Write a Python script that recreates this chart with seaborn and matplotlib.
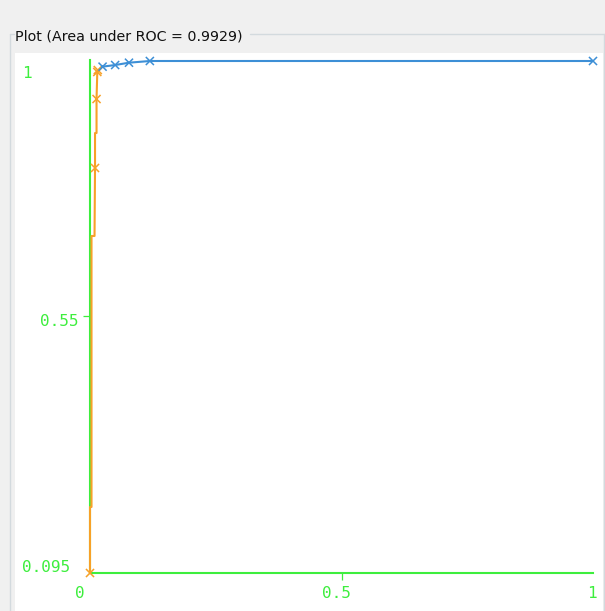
import matplotlib
matplotlib.use("Agg")
import matplotlib.pyplot as plt
from matplotlib.lines import Line2D
import pandas as pd
import seaborn as sns

TITLE = "Plot (Area under ROC = 0.9929)"

# curve vertices (false positive rate, true positive rate) and colour group
fpr = [0.0, 0.0, 0.003, 0.003, 0.009, 0.010, 0.010, 0.013, 0.013, 0.0145,
       0.0145, 0.025,
       0.025, 0.050, 0.0775, 0.119, 1.0]
tpr = [0.095, 0.2117, 0.2117, 0.6907, 0.6907, 0.8109, 0.8727, 0.8727, 0.9328, 0.9806,
       0.9806, 0.990,
       0.990, 0.9929, 0.997, 1.0, 1.0]
group = ["low"] * 10 + ["mid"] * 2 + ["high"] * 5

# points with an x marker
mark_fpr = [0.0, 0.010, 0.013, 0.0145, 0.0155, 0.025, 0.050, 0.0775, 0.119, 1.0]
mark_tpr = [0.095, 0.8109, 0.9328, 0.9806, 0.984, 0.990, 0.9929, 0.997, 1.0, 1.0]
mark_group = ["low"] * 5 + ["high"] * 5

x_ticks = [0, 0.5, 1]
x_labels = ["0", "0.5", "1"]
y_ticks = [0.095, 0.55, 1]
y_labels = ["0.095", "0.55", "1"]

palette = {"low": "#f7a128", "mid": "#6f7f7a", "high": "#3d8fd6"}
GREEN = "#3dee3d"

W, H = 605, 611


def px_x(px):
    return (px - 90) / 503


def px_y(py):
    return 1 - (py - 61) * 0.905 / 512


sns.set_theme(style="white")
plt.rcParams["font.family"] = ["DejaVu Sans"]

fig = plt.figure(figsize=(W / 100, H / 100), dpi=100, facecolor="#f0f0f0")

# titled border around the plot panel
border = "#d3dade"
fig.add_artist(Line2D([10 / W, 14 / W], [1 - 34 / H, 1 - 34 / H], color=border, lw=1))
fig.add_artist(Line2D([250 / W, 1], [1 - 34 / H, 1 - 34 / H], color=border, lw=1))
fig.add_artist(Line2D([10 / W, 10 / W], [0, 1 - 34 / H], color=border, lw=1))
fig.add_artist(Line2D([604 / W, 604 / W], [0, 1 - 34 / H], color=border, lw=1))
fig.text(15 / W, 1 - 37 / H, TITLE, fontsize=10.3, color="#111111", va="center", ha="left")

ax = fig.add_axes([15 / W, 0, 588 / W, (H - 53) / H])
ax.set_facecolor("white")
ax.set_xlim(px_x(15), px_x(603))
ax.set_ylim(px_y(611), px_y(53))

for s in ["top", "right"]:
    ax.spines[s].set_visible(False)
ax.spines["left"].set_position(("data", 0))
ax.spines["left"].set_bounds(0.095, px_y(60))
ax.spines["bottom"].set_position(("data", 0.095))
ax.spines["bottom"].set_bounds(0, 1)
for s in ["left", "bottom"]:
    ax.spines[s].set_color(GREEN)
    ax.spines[s].set_linewidth(1.5)
    ax.spines[s].set_zorder(1)

# only the middle ticks get a tick mark
ax.set_xticks([x_ticks[1]])
ax.set_xticklabels([])
ax.set_yticks([y_ticks[1]])
ax.set_yticklabels([])
ax.tick_params(bottom=True, left=True, length=5, width=0.9, color=GREEN, direction="out")
ax.grid(False)

mono = dict(family="DejaVu Sans Mono", fontsize=11.5, color=GREEN)
x_label_px = [80, 336, 592]
for lab, p in zip(x_labels, x_label_px):
    ax.text(px_x(p), px_y(593), lab, ha="center", va="center", **mono)
y_label_px = [(22, 567), (40, 322), (22, 73)]
for lab, (lx, ly) in zip(y_labels, y_label_px):
    ax.text(px_x(lx), px_y(ly), lab, ha="left", va="center", **mono)

curve = pd.DataFrame({"fpr": fpr, "tpr": tpr, "group": group})
marks = pd.DataFrame({"fpr": mark_fpr, "tpr": mark_tpr, "group": mark_group})

sns.lineplot(data=curve, x="fpr", y="tpr", hue="group", palette=palette, sort=False,
             estimator=None, lw=1.5, legend=False, ax=ax, zorder=3)
sns.scatterplot(data=marks, x="fpr", y="tpr", hue="group", palette=palette, marker="x",
                s=34, linewidth=1.1, legend=False, ax=ax, zorder=4)
ax.set_xlabel("")
ax.set_ylabel("")

fig.savefig("out.png", dpi=100, facecolor=fig.get_facecolor())
